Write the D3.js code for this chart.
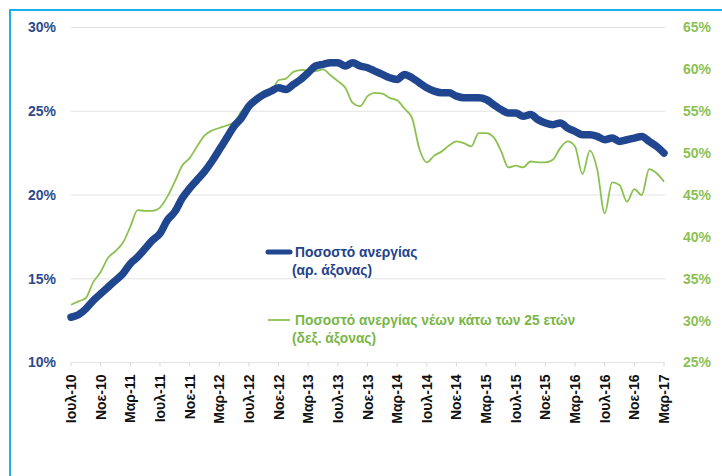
<!DOCTYPE html>
<html>
<head>
<meta charset="utf-8">
<script src="https://cdn.jsdelivr.net/npm/d3@7"></script>
<style>
  body { margin: 0; background: #fff; }
  text { font-family: "Liberation Sans", Arial, sans-serif; }
</style>
</head>
<body>
<svg id="chart" width="722" height="476"></svg>
<script>
// monthly, Ιουλ-10 .. Μαρ-17
var tickLabels = ['Ιουλ-10', 'Νοε-10', 'Μαρ-11', 'Ιουλ-11', 'Νοε-11', 'Μαρ-12', 'Ιουλ-12',
  'Νοε-12', 'Μαρ-13', 'Ιουλ-13', 'Νοε-13', 'Μαρ-14', 'Ιουλ-14', 'Νοε-14', 'Μαρ-15',
  'Ιουλ-15', 'Νοε-15', 'Μαρ-16', 'Ιουλ-16', 'Νοε-16', 'Μαρ-17'];

var unemployment = [12.7, 12.85, 13.2, 13.7, 14.1, 14.5, 14.9, 15.3, 15.9, 16.3,
  16.8, 17.3, 17.7, 18.5, 19.0, 19.8, 20.4, 20.9, 21.4, 22.0,
  22.7, 23.4, 24.1, 24.6, 25.3, 25.7, 26.0, 26.2, 26.4, 26.3,
  26.6, 26.9, 27.3, 27.7, 27.8, 27.9, 27.9, 27.7, 27.9, 27.7,
  27.6, 27.4, 27.2, 27.0, 26.9, 27.2, 27.0, 26.7, 26.4, 26.2,
  26.1, 26.1, 25.9, 25.8, 25.8, 25.8, 25.7, 25.4, 25.1, 24.9,
  24.9, 24.7, 24.8, 24.5, 24.3, 24.2, 24.3, 24.0, 23.8, 23.6,
  23.6, 23.5, 23.3, 23.4, 23.2, 23.3, 23.4, 23.5, 23.2, 22.9, 22.5];

var youthUnemployment = [31.9, 32.3, 32.7, 34.6, 35.8, 37.5, 38.3, 39.3, 41.2, 43.2,
  43.1, 43.1, 43.5, 44.8, 46.6, 48.5, 49.4, 50.8, 52.1, 52.7,
  53.0, 53.3, 53.7, 55.0, 55.9, 56.4, 57.0, 57.3, 58.7, 58.9,
  59.7, 59.9, 59.9, 59.8, 60.0, 59.3, 58.6, 57.8, 56.0, 55.6,
  56.8, 57.2, 57.1, 56.6, 56.3, 55.3, 54.2, 50.5, 48.9, 49.7,
  50.2, 50.9, 51.4, 51.2, 50.8, 52.4, 52.4, 51.9, 50.3, 48.3,
  48.5, 48.3, 49.0, 48.9, 48.9, 49.2, 50.6, 51.4, 50.8, 47.5,
  50.3, 48.0, 42.8, 46.5, 46.2, 44.2, 45.7, 45.0, 48.1, 47.6, 46.6];

var leftTicks = [10, 15, 20, 25, 30];
var rightTicks = [25, 30, 35, 40, 45, 50, 55, 60, 65];

var svg = d3.select('svg#chart');

// frame
svg.append('rect')
  .attr('x', 10)
  .attr('y', 10)
  .attr('width', 800)
  .attr('height', 600)
  .style('fill', 'none')
  .style('stroke', '#1cb0ee')
  .style('stroke-width', 2);

var x = d3.scaleLinear()
  .domain([0, unemployment.length - 1])
  .range([71, 664]);

var yLeft = d3.scaleLinear()
  .domain([10, 30])
  .range([362.5, 27.5]);

var yRight = d3.scaleLinear()
  .domain([25, 65])
  .range([362.5, 27.5]);

// gridlines
svg.selectAll('line.grid')
  .data(leftTicks)
  .enter()
  .append('line')
    .attr('class', 'grid')
    .attr('x1', 71)
    .attr('x2', 665)
    .attr('y1', function (d) { return yLeft(d); })
    .attr('y2', function (d) { return yLeft(d); })
    .style('stroke', '#e3e3e3')
    .style('stroke-width', 1);

// x axis ticks
svg.selectAll('line.xtick')
  .data(tickLabels)
  .enter()
  .append('line')
    .attr('class', 'xtick')
    .attr('x1', function (d, i) { return x(i * 4); })
    .attr('x2', function (d, i) { return x(i * 4); })
    .attr('y1', yLeft(10))
    .attr('y2', yLeft(10) + 4)
    .style('stroke', '#d9d9d9')
    .style('stroke-width', 1);

svg.selectAll('text.xlabel')
  .data(tickLabels)
  .enter()
  .append('text')
    .attr('class', 'xlabel')
    .attr('transform', function (d, i) {
      return 'translate(' + x(i * 4) + ',' + (yLeft(10) + 12) + ') rotate(-90)';
    })
    .attr('dy', '0.36em')
    .attr('text-anchor', 'end')
    .style('font-size', '14px')
    .style('font-weight', 'bold')
    .style('fill', '#111')
    .text(function (d) { return d; });

// y labels
svg.selectAll('text.yleft')
  .data(leftTicks)
  .enter()
  .append('text')
    .attr('class', 'yleft')
    .attr('x', 56)
    .attr('y', function (d) { return yLeft(d); })
    .attr('dy', '0.35em')
    .attr('text-anchor', 'end')
    .style('font-size', '14px')
    .style('font-weight', 'bold')
    .style('fill', '#2d4a8c')
    .text(function (d) { return d + '%'; });

svg.selectAll('text.yright')
  .data(rightTicks)
  .enter()
  .append('text')
    .attr('class', 'yright')
    .attr('x', 683)
    .attr('y', function (d) { return yRight(d); })
    .attr('dy', '0.35em')
    .style('font-size', '14px')
    .style('font-weight', 'bold')
    .style('fill', '#8cc152')
    .text(function (d) { return d + '%'; });

// lines
var lineLeft = d3.line()
  .x(function (d, i) { return x(i); })
  .y(function (d) { return yLeft(d); })
  .curve(d3.curveMonotoneX);

var lineRight = d3.line()
  .x(function (d, i) { return x(i); })
  .y(function (d) { return yRight(d); })
  .curve(d3.curveMonotoneX);

svg.append('path')
  .datum(youthUnemployment)
  .attr('d', lineRight)
  .style('fill', 'none')
  .style('stroke', '#8cc152')
  .style('stroke-width', 1.8);

svg.append('path')
  .datum(unemployment)
  .attr('d', lineLeft)
  .style('fill', 'none')
  .style('stroke', '#1f468f')
  .style('stroke-width', 7.5)
  .style('stroke-linecap', 'round')
  .style('stroke-linejoin', 'round');

// legend
var legend = [
  { lines: ['Ποσοστό ανεργίας', '(αρ. άξονας)'], color: '#1f468f', text: '#23428a', width: 5, y: 252 },
  { lines: ['Ποσοστό ανεργίας νέων κάτω των 25 ετών', '(δεξ. άξονας)'], color: '#8cc152', text: '#7ab648', width: 1.8, y: 320 }
];

legend.forEach(function (d) {
  svg.append('line')
    .attr('x1', 268)
    .attr('x2', 290)
    .attr('y1', d.y)
    .attr('y2', d.y)
    .style('stroke', d.color)
    .style('stroke-width', d.width)
    .style('stroke-linecap', d.width > 3 ? 'round' : 'butt');
  svg.append('text')
    .attr('x', 295)
    .attr('y', d.y)
    .attr('dy', '0.35em')
    .style('font-size', '13.8px')
    .style('font-weight', 'bold')
    .style('fill', d.text)
    .text(d.lines[0]);
  svg.append('text')
    .attr('x', 292)
    .attr('y', d.y + 18)
    .attr('dy', '0.35em')
    .style('font-size', '13.8px')
    .style('font-weight', 'bold')
    .style('fill', d.text)
    .text(d.lines[1]);
});
</script>
</body>
</html>
